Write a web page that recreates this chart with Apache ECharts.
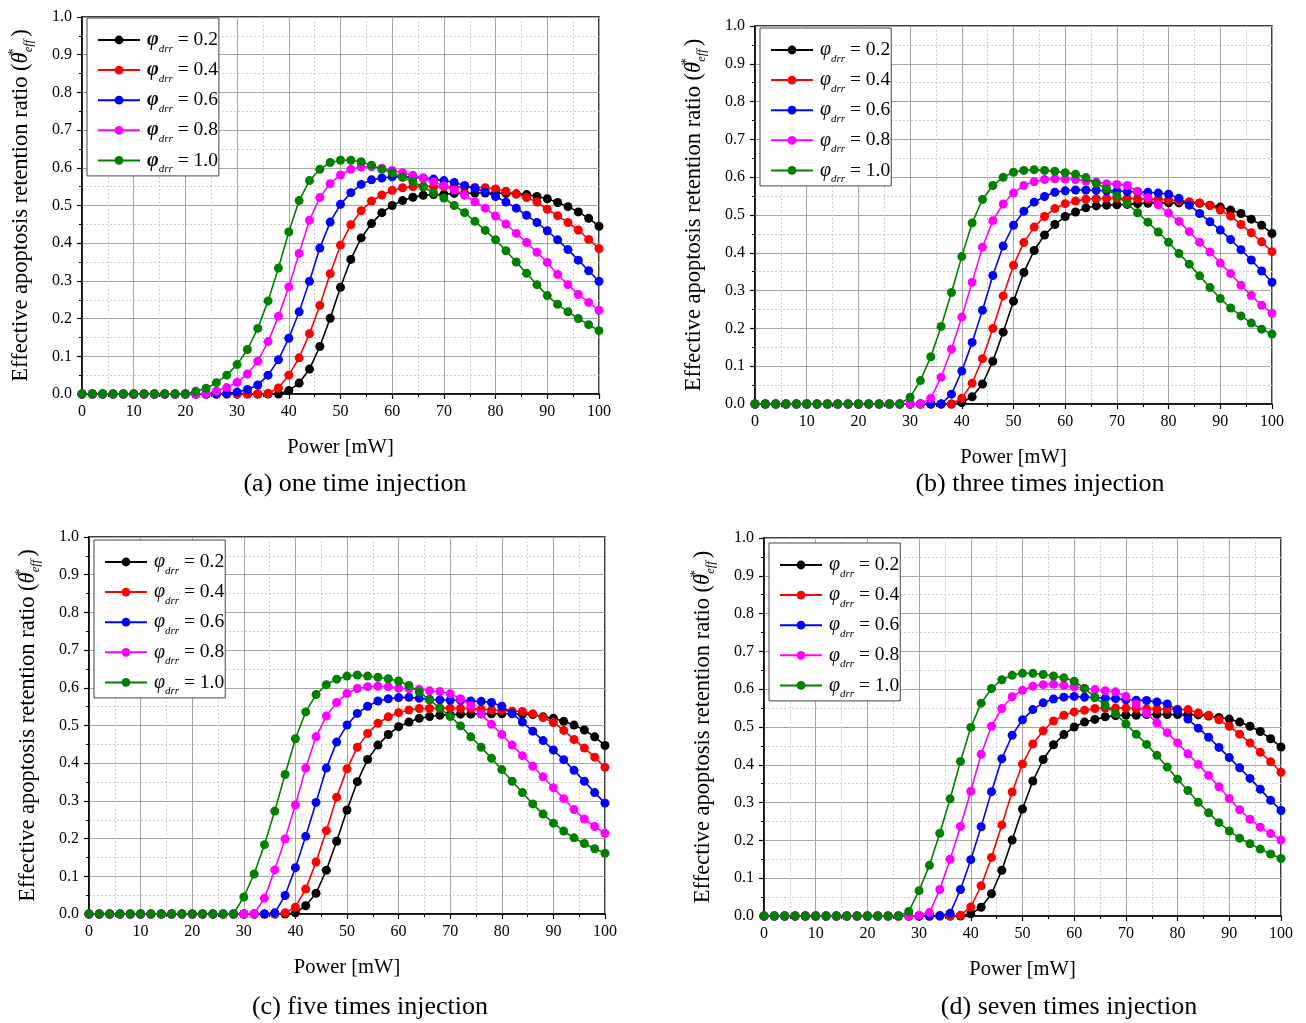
<!DOCTYPE html>
<html>
<head>
<meta charset="utf-8">
<script src="https://cdn.jsdelivr.net/npm/echarts@6/dist/echarts.min.js"></script>
<style>
  html, body { margin: 0; padding: 0; background: #fff; }
  #chart { width: 1306px; height: 1023px; }
</style>
</head>
<body>
<div id="chart"></div>
<script>
// ---------------- DATA ----------------
const power = [0,2,4,6,8,10,12,14,16,18,20,22,24,26,28,30,32,34,36,38,40,42,44,46,48,50,52,54,56,58,60,62,64,66,68,70,72,74,76,78,80,82,84,86,88,90,92,94,96,98,100];
const phiValues = ['0.2','0.4','0.6','0.8','1.0'];
const xTicks = [0,10,20,30,40,50,60,70,80,90,100];
const yTicks = [0.0,0.1,0.2,0.3,0.4,0.5,0.6,0.7,0.8,0.9,1.0];
const captions = ['(a) one time injection','(b) three times injection','(c) five times injection','(d) seven times injection'];

// (a) one time injection
const a_02 = [0,0,0,0,0,0,0,0,0,0,0,0,0,0,0,0,0,0,0,0,0.009,0.029,0.066,0.126,0.201,0.283,0.357,0.414,0.452,0.481,0.5,0.513,0.522,0.527,0.529,0.53,0.532,0.532,0.533,0.533,0.533,0.532,0.531,0.529,0.524,0.518,0.508,0.497,0.483,0.466,0.445];
const a_04 = [0,0,0,0,0,0,0,0,0,0,0,0,0,0,0,0,0,0,0.002,0.016,0.05,0.096,0.16,0.235,0.319,0.395,0.449,0.486,0.512,0.528,0.54,0.547,0.55,0.551,0.55,0.55,0.549,0.549,0.548,0.547,0.544,0.538,0.53,0.521,0.509,0.49,0.473,0.455,0.435,0.41,0.386];
const a_06 = [0,0,0,0,0,0,0,0,0,0,0,0,0,0,0.001,0.005,0.012,0.024,0.05,0.091,0.148,0.218,0.299,0.387,0.456,0.503,0.534,0.556,0.568,0.573,0.576,0.576,0.575,0.573,0.57,0.566,0.561,0.553,0.546,0.536,0.524,0.509,0.493,0.474,0.455,0.433,0.409,0.383,0.355,0.327,0.299];
const a_08 = [0,0,0,0,0,0,0,0,0,0,0,0,0.001,0.008,0.017,0.031,0.053,0.087,0.139,0.206,0.284,0.373,0.461,0.521,0.558,0.581,0.596,0.602,0.603,0.599,0.593,0.587,0.58,0.572,0.563,0.552,0.541,0.527,0.51,0.493,0.472,0.451,0.426,0.402,0.376,0.349,0.317,0.29,0.264,0.243,0.222];
const a_10 = [0,0,0,0,0,0,0,0,0,0,0,0.007,0.015,0.03,0.05,0.078,0.118,0.174,0.247,0.334,0.43,0.513,0.566,0.596,0.614,0.62,0.62,0.616,0.607,0.596,0.587,0.575,0.563,0.549,0.534,0.52,0.5,0.481,0.458,0.434,0.409,0.38,0.35,0.32,0.29,0.261,0.238,0.218,0.2,0.184,0.168];

// (b) three times injection
const b_02 = [0,0,0,0,0,0,0,0,0,0,0,0,0,0,0,0,0,0,0,0,0.004,0.019,0.053,0.113,0.19,0.272,0.348,0.406,0.447,0.475,0.496,0.508,0.519,0.524,0.526,0.527,0.528,0.53,0.531,0.532,0.532,0.532,0.532,0.531,0.526,0.521,0.513,0.504,0.489,0.473,0.451];
const b_04 = [0,0,0,0,0,0,0,0,0,0,0,0,0,0,0,0,0,0,0,0,0.015,0.055,0.12,0.2,0.286,0.367,0.427,0.468,0.496,0.517,0.53,0.537,0.542,0.543,0.544,0.544,0.544,0.543,0.542,0.542,0.54,0.538,0.535,0.532,0.525,0.513,0.497,0.475,0.453,0.429,0.403];
const b_06 = [0,0,0,0,0,0,0,0,0,0,0,0,0,0,0,0,0,0,0,0.026,0.087,0.163,0.248,0.34,0.418,0.473,0.51,0.534,0.549,0.56,0.564,0.566,0.566,0.565,0.564,0.564,0.562,0.561,0.56,0.558,0.555,0.544,0.526,0.504,0.482,0.46,0.435,0.408,0.381,0.352,0.322];
const b_08 = [0,0,0,0,0,0,0,0,0,0,0,0,0,0,0,0,0,0.015,0.071,0.145,0.23,0.322,0.415,0.485,0.529,0.558,0.578,0.588,0.594,0.596,0.595,0.594,0.59,0.587,0.583,0.581,0.578,0.563,0.546,0.527,0.505,0.483,0.456,0.428,0.402,0.373,0.345,0.314,0.287,0.261,0.24];
const b_10 = [0,0,0,0,0,0,0,0,0,0,0,0,0,0,0,0.018,0.062,0.125,0.205,0.295,0.39,0.479,0.541,0.578,0.6,0.613,0.618,0.62,0.618,0.616,0.612,0.608,0.599,0.584,0.569,0.55,0.53,0.506,0.481,0.455,0.428,0.398,0.37,0.339,0.308,0.279,0.254,0.233,0.214,0.198,0.185];

// (c) five times injection
const c_02 = [0,0,0,0,0,0,0,0,0,0,0,0,0,0,0,0,0,0,0,0,0.003,0.022,0.055,0.116,0.193,0.276,0.351,0.41,0.448,0.476,0.497,0.509,0.519,0.524,0.527,0.529,0.53,0.53,0.531,0.531,0.531,0.531,0.53,0.529,0.523,0.519,0.511,0.501,0.488,0.47,0.447];
const c_04 = [0,0,0,0,0,0,0,0,0,0,0,0,0,0,0,0,0,0,0,0.003,0.018,0.066,0.138,0.221,0.31,0.385,0.442,0.479,0.506,0.523,0.534,0.541,0.545,0.545,0.546,0.546,0.545,0.545,0.543,0.541,0.54,0.538,0.537,0.531,0.521,0.508,0.487,0.463,0.44,0.416,0.389];
const c_06 = [0,0,0,0,0,0,0,0,0,0,0,0,0,0,0,0,0,0,0.003,0.049,0.123,0.206,0.296,0.387,0.456,0.501,0.532,0.551,0.565,0.571,0.574,0.575,0.572,0.569,0.568,0.567,0.567,0.565,0.564,0.561,0.551,0.532,0.509,0.485,0.46,0.435,0.409,0.381,0.352,0.322,0.294];
const c_08 = [0,0,0,0,0,0,0,0,0,0,0,0,0,0,0,0,0,0.042,0.117,0.199,0.289,0.387,0.47,0.525,0.561,0.585,0.598,0.603,0.604,0.603,0.599,0.598,0.596,0.592,0.59,0.584,0.571,0.553,0.53,0.503,0.476,0.448,0.42,0.392,0.364,0.335,0.306,0.277,0.252,0.232,0.214];
const c_10 = [0,0,0,0,0,0,0,0,0,0,0,0,0,0,0,0.045,0.106,0.184,0.273,0.37,0.465,0.536,0.582,0.608,0.623,0.631,0.634,0.631,0.628,0.624,0.618,0.606,0.589,0.568,0.546,0.524,0.499,0.47,0.442,0.413,0.383,0.352,0.322,0.292,0.265,0.241,0.22,0.202,0.187,0.173,0.161];

// (d) seven times injection
const d_02 = [0,0,0,0,0,0,0,0,0,0,0,0,0,0,0,0,0,0,0,0,0.006,0.023,0.059,0.121,0.201,0.283,0.357,0.414,0.453,0.48,0.5,0.513,0.52,0.527,0.53,0.531,0.531,0.533,0.533,0.533,0.533,0.533,0.532,0.529,0.525,0.521,0.513,0.502,0.488,0.469,0.447];
const d_04 = [0,0,0,0,0,0,0,0,0,0,0,0,0,0,0,0,0,0,0,0.002,0.024,0.08,0.155,0.241,0.328,0.402,0.455,0.49,0.516,0.531,0.54,0.544,0.549,0.55,0.55,0.55,0.549,0.548,0.547,0.547,0.547,0.546,0.537,0.531,0.519,0.502,0.481,0.458,0.433,0.408,0.38];
const d_06 = [0,0,0,0,0,0,0,0,0,0,0,0,0,0,0,0,0,0.001,0.007,0.07,0.149,0.236,0.329,0.416,0.478,0.519,0.546,0.564,0.574,0.579,0.581,0.579,0.578,0.576,0.575,0.572,0.571,0.57,0.566,0.561,0.544,0.521,0.497,0.473,0.446,0.419,0.392,0.364,0.335,0.306,0.279];
const d_08 = [0,0,0,0,0,0,0,0,0,0,0,0,0,0,0,0.002,0.009,0.07,0.15,0.237,0.33,0.428,0.502,0.549,0.58,0.597,0.608,0.612,0.613,0.61,0.606,0.602,0.599,0.596,0.593,0.581,0.561,0.537,0.511,0.485,0.458,0.429,0.401,0.372,0.342,0.311,0.281,0.256,0.235,0.218,0.201];
const d_10 = [0,0,0,0,0,0,0,0,0,0,0,0,0,0,0.012,0.067,0.134,0.219,0.31,0.409,0.499,0.563,0.602,0.625,0.637,0.642,0.642,0.639,0.635,0.63,0.621,0.602,0.579,0.558,0.535,0.508,0.481,0.454,0.425,0.394,0.362,0.332,0.301,0.273,0.247,0.225,0.206,0.191,0.177,0.164,0.152];

const panelSeries = [
  [a_02, a_04, a_06, a_08, a_10],
  [b_02, b_04, b_06, b_08, b_10],
  [c_02, c_04, c_06, c_08, c_10],
  [d_02, d_04, d_06, d_08, d_10]
];

// ---------------- STYLE / LAYOUT ----------------
const FONT = '"Liberation Serif","Times New Roman",serif';
const colors = ['#000000', '#ff0000', '#0000ff', '#ff00ff', '#008000'];
const panelKeys = ['a', 'b', 'c', 'd'];
const grids = [
  { left: 82,  top: 17,  width: 517, height: 377 },
  { left: 755, top: 26,  width: 517, height: 378 },
  { left: 89,  top: 537, width: 516, height: 377 },
  { left: 764, top: 538, width: 517, height: 378 }
];
const legendPos = [
  { left: 87,  top: 18 },
  { left: 760, top: 28 },
  { left: 94,  top: 540 },
  { left: 769, top: 543 }
];
const captionPos = [
  { x: 355,  y: 484 },
  { x: 1040, y: 484 },
  { x: 370,  y: 1007 },
  { x: 1069, y: 1007 }
];

const chart = echarts.init(document.getElementById('chart'), null, { renderer: 'canvas' });

const xAxes = [], yAxes = [], series = [], legends = [], graphics = [];
grids.forEach((g, i) => {
  xAxes.push({
    type: 'value', gridIndex: i, min: xTicks[0], max: xTicks[xTicks.length - 1], interval: xTicks[1] - xTicks[0],
    name: 'Power [mW]', nameLocation: 'middle', nameGap: 43,
    nameTextStyle: { fontFamily: FONT, fontSize: 20.5, color: '#000' },
    axisLine: { onZero: false, lineStyle: { color: '#000', width: 1.5 } },
    axisTick: { show: true, inside: false, length: 5, lineStyle: { color: '#000', width: 1.2 } },
    minorTick: { show: true, splitNumber: 2, length: 3, lineStyle: { color: '#000', width: 1 } },
    axisLabel: { fontFamily: FONT, fontSize: 16, color: '#000', margin: 10 },
    splitLine: { show: true, lineStyle: { color: '#a6a6a6', width: 1 } },
    minorSplitLine: { show: true, lineStyle: { color: '#cfcfcf', width: 1, type: [2, 2] } }
  });
  yAxes.push({
    type: 'value', gridIndex: i, min: yTicks[0], max: yTicks[yTicks.length - 1], interval: 0.1,
    name: '{t|Effective apoptosis retention ratio (}{th|θ}{sp|*}{sb|eff}{t|)}',
    nameLocation: 'middle', nameGap: 47, nameRotate: 90,
    nameTextStyle: {
      fontFamily: FONT, fontSize: 22.5, color: '#000',
      rich: {
        t:  { fontFamily: FONT, fontSize: 22.5, color: '#000', lineHeight: 28 },
        th: { fontFamily: FONT, fontSize: 22.5, color: '#000', fontStyle: 'italic', lineHeight: 28 },
        sp: { fontFamily: FONT, fontSize: 15, color: '#000', width: 0, verticalAlign: 'top' },
        sb: { fontFamily: FONT, fontSize: 12.5, color: '#000', fontStyle: 'italic', verticalAlign: 'bottom', padding: [0, 3, 0, 0] }
      }
    },
    axisLine: { onZero: false, lineStyle: { color: '#000', width: 1.5 } },
    axisTick: { show: true, inside: false, length: 5, lineStyle: { color: '#000', width: 1.2 } },
    minorTick: { show: true, splitNumber: 2, length: 3, lineStyle: { color: '#000', width: 1 } },
    axisLabel: { fontFamily: FONT, fontSize: 16, color: '#000', margin: 10, formatter: v => v.toFixed(1) },
    splitLine: { show: true, lineStyle: { color: '#a6a6a6', width: 1 } },
    minorSplitLine: { show: true, lineStyle: { color: '#cfcfcf', width: 1, type: [2, 2] } }
  });

  const names = [];
  panelSeries[i].forEach((vals, k) => {
    const name = panelKeys[i] + ' ' + phiValues[k];
    names.push(name);
    series.push({
      type: 'line', name: name, xAxisIndex: i, yAxisIndex: i,
      data: power.map((x, j) => [x, vals[j]]),
      symbol: 'circle', symbolSize: 9, showSymbol: true,
      lineStyle: { color: colors[k], width: 1.6 },
      itemStyle: { color: colors[k] },
      emphasis: { disabled: true },
      animation: false, z: 3 + k
    });
  });

  const bold = i === 0 ? 'bold' : 'normal';
  legends.push({
    data: names, orient: 'vertical', left: legendPos[i].left, top: legendPos[i].top,
    backgroundColor: '#ffffff', borderColor: '#444', borderWidth: 1,
    padding: [12, 1, 1, 10], itemGap: 5.6, itemWidth: 42, itemHeight: 11,
    selectedMode: false, z: 10,
    formatter: n => '{p|φ}{s|drr}{t| = ' + n.split(' ')[1] + '}',
    textStyle: {
      fontFamily: FONT, fontSize: 19.5, color: '#000', padding: [0, 0, 0, 2],
      rich: {
        p: { fontFamily: FONT, fontSize: 20, fontStyle: 'italic', fontWeight: bold, color: '#000', lineHeight: 29 },
        s: { fontFamily: FONT, fontSize: 11, fontStyle: 'italic', color: '#000', verticalAlign: 'bottom' },
        t: { fontFamily: FONT, fontSize: 19.5, color: '#000', lineHeight: 29 }
      }
    }
  });

  graphics.push({
    type: 'text', x: captionPos[i].x, y: captionPos[i].y, z: 20,
    style: { text: captions[i], fill: '#000', font: '26px ' + FONT, textAlign: 'center', textVerticalAlign: 'middle' }
  });
});

chart.setOption({
  backgroundColor: '#ffffff',
  animation: false,
  grid: grids.map(g => Object.assign({ show: true, borderColor: '#000', borderWidth: 1.5, backgroundColor: 'transparent', containLabel: false }, g)),
  xAxis: xAxes,
  yAxis: yAxes,
  legend: legends,
  series: series,
  graphic: graphics
});
</script>
</body>
</html>
